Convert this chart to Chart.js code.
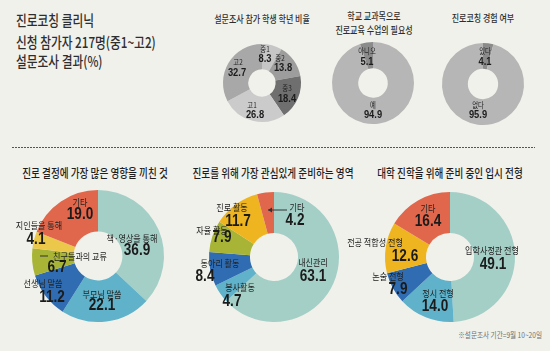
<!DOCTYPE html>
<html>
<head>
<meta charset="utf-8">
<script src="https://cdn.jsdelivr.net/npm/chart.js@4.4.0/dist/chart.umd.min.js"></script>
<style>
  html, body { margin: 0; padding: 0; background: #f1f1ec; overflow: hidden; }
  #wrap { position: relative; width: 550px; height: 351px; background: #f1f1ec; overflow: hidden; }
  #wrap canvas { position: absolute; }
  .t { position: absolute; font-family: 'Noto Sans CJK KR', sans-serif; white-space: nowrap; line-height: 1; }
  .main { left: 16px; font-size: 15px; font-weight: 500; color: #2e2e2e; transform: scaleX(0.78); transform-origin: 0 50%; }
  .sub { width: 300px; text-align: center; font-size: 10px; font-weight: 500; color: #2e2e2e; transform: scaleX(0.8); transform-origin: 50% 50%; }
  .big { width: 300px; text-align: center; font-size: 12px; font-weight: 500; color: #1e1e1e; transform: scaleX(0.8); transform-origin: 50% 50%; }
  .note { width: 200px; text-align: right; font-size: 7.5px; color: #6e6e6e; transform: scaleX(0.88); transform-origin: 100% 50%; }
  .dash { position: absolute; left: 12px; top: 147px; width: 523px; height: 1px;
          background: repeating-linear-gradient(to right, #555 0 2px, transparent 2px 3px); }
</style>
</head>
<body>
<div id="wrap">
  <div class="t main" style="top:11.5px">진로코칭 클리닉</div>
  <div class="t main" style="top:34px">신청 참가자 217명(중1~고2)</div>
  <div class="t main" style="top:52.5px">설문조사 결과(%)</div>

  <div class="t sub" style="left:112px;top:14px">설문조사 참가 학생 학년 비율</div>
  <div class="t sub" style="left:224px;top:10.5px">학교 교과목으로</div>
  <div class="t sub" style="left:224px;top:25px">진로교육 수업의 필요성</div>
  <div class="t sub" style="left:333px;top:13px">진로코칭 경험 여부</div>

  <div class="dash"></div>

  <div class="t big" style="left:-55px;top:167px">진로 결정에 가장 많은 영향을 끼친 것</div>
  <div class="t big" style="left:123px;top:167px">진로를 위해 가장 관심있게 준비하는 영역</div>
  <div class="t big" style="left:300px;top:167px">대학 진학을 위해 준비 중인 입시 전형</div>

  <div class="t note" style="left:342px;top:331px">※설문조사 기간=9월 10~20일</div>
</div>
<script>
// 설문 결과 (%)
var gradeLabels = ['중1', '중2', '중3', '고1', '고2'];
var gradeValues = [8.3, 13.8, 18.4, 26.8, 32.7];

var needLabels = ['예', '아니오'];
var needValues = [94.9, 5.1];

var expLabels = ['있다', '없다'];
var expValues = [4.1, 95.9];

var influenceLabels = ['책·영상을 통해', '부모님 말씀', '선생님 말씀', '친구들과의 교류', '지인들을 통해', '기타'];
var influenceValues = [36.9, 22.1, 11.2, 6.7, 4.1, 19.0];

var prepLabels = ['내신관리', '봉사활동', '동아리 활동', '자율 활동', '진로 활동', '기타'];
var prepValues = [63.1, 4.7, 8.4, 7.9, 11.7, 4.2];

var admLabels = ['입학사정관 전형', '정시 전형', '논술 전형', '전공 적합성 전형', '기타'];
var admValues = [49.1, 14.0, 7.9, 12.6, 16.4];

// colours
var gradeColors = ['#c6c6c6', '#9d9d9d', '#6f6f6f', '#cbcbcb', '#a8a8a8'];
var needColors = ['#b6b6b6', '#8b8b8b'];
var expColors = ['#8b8b8b', '#b6b6b6'];
var influenceColors = ['#a4cfc6', '#5fb2c9', '#2f6cb2', '#a7b435', '#ecc84a', '#e0674c'];
var prepColors = ['#a4cfc6', '#5fb2c9', '#2f6cb2', '#a7b435', '#efb520', '#e0674c'];
var admColors = ['#a4cfc6', '#5fb2c9', '#2f6cb2', '#efb520', '#e0674c'];

// label placement relative to donut centre: [nameDx, nameDy, valueDx, valueDy]
var gradePos = [[3, -34, 3, -24], [18, -25, 21, -15], [25, 5, 25, 16], [-10, 22, -7, 32], [-24, -21, -25, -10]];
var needPos = [[0, 22, 0, 32], [-6, -32, -6, -21]];
var expPos = [[2, -33, 2, -22], [-5, 21, -5, 31]];
var influencePos = [[34, -18, 39, -5], [4, 38, 4, 50], [-55, 27, -46, 42], [-18, 0, -41, 12], [-59, -31, -62, -16], [-18, -54, -18, -41]];
var prepPos = [[39, 5, 39, 20], [-34, 30, -42, 45], [-54, 6, -69, 20], [-62, -27, -52, -19], [-42, -50, -36, -35], [23, -50, 21, -36]];
var admPos = [[42, -7, 43, 8], [-12, 36, -15, 50], [-62, 19, -52, 33], [-75, -15, -45, 0], [-22, -49, -22, -35]];

var TOP = { nameFont: "7.5px 'Noto Sans CJK KR'", valFont: "bold 11px 'Liberation Sans'", sx: 0.85 };
var BOTTOM = { nameFont: "9.5px 'Noto Sans CJK KR'", valFont: "bold 16px 'Liberation Sans'", sx: 0.85 };

function drawText(ctx, text, x, y, font, sx, color) {
    ctx.save();
    ctx.translate(x, y);
    ctx.scale(sx, 1);
    ctx.font = font;
    ctx.fillStyle = color;
    ctx.textAlign = 'center';
    ctx.textBaseline = 'middle';
    ctx.fillText(text, 0, 0);
    ctx.restore();
}

function labelPlugin(o) {
    return {
        id: 'donutLabels',
        afterDraw: function (chart) {
            var ctx = chart.ctx;
            var arcs = chart.getDatasetMeta(0).data;
            arcs.forEach(function (a, i) {
                var p = o.pos[i];
                drawText(ctx, o.labels[i], a.x + p[0], a.y + p[1], o.style.nameFont, o.style.sx, '#222');
                drawText(ctx, o.values[i].toFixed(1), a.x + p[2], a.y + p[3], o.style.valFont, o.style.sx, '#1b1b1b');
            });
            if (o.leaders) {
                var c = arcs[0];
                ctx.save();
                ctx.strokeStyle = '#333';
                ctx.fillStyle = '#333';
                ctx.lineWidth = 1;
                o.leaders.forEach(function (l) {
                    ctx.beginPath();
                    ctx.moveTo(c.x + l[0], c.y + l[1]);
                    ctx.lineTo(c.x + l[2], c.y + l[1]);
                    ctx.stroke();
                    if (l[3]) {
                        ctx.beginPath();
                        ctx.moveTo(c.x + l[2], c.y + l[1]);
                        ctx.lineTo(c.x + l[2] + 4, c.y + l[1] - 2.5);
                        ctx.lineTo(c.x + l[2] + 4, c.y + l[1] + 2.5);
                        ctx.closePath();
                        ctx.fill();
                    }
                });
                ctx.restore();
            }
        }
    };
}

function makeDonut(o) {
    var c = document.createElement('canvas');
    c.width = o.w;
    c.height = o.h;
    c.style.left = (o.cx - o.w / 2) + 'px';
    c.style.top = (o.cy - o.h / 2) + 'px';
    document.getElementById('wrap').appendChild(c);
    var padX = o.w / 2 - o.r, padY = o.h / 2 - o.r;
    return new Chart(c, {
        type: 'doughnut',
        data: {
            labels: o.labels,
            datasets: [{
                data: o.values,
                backgroundColor: o.colors,
                borderWidth: 0,
                hoverBorderWidth: 0,
                hoverOffset: 0
            }]
        },
        options: {
            responsive: false,
            animation: false,
            events: [],
            cutout: o.cutout,
            layout: { padding: { left: padX, right: padX, top: padY, bottom: padY } },
            plugins: {
                legend: { display: false },
                tooltip: { enabled: false }
            }
        },
        plugins: [labelPlugin(o)]
    });
}

makeDonut({ cx: 262, cy: 83, r: 39, w: 120, h: 100, cutout: '35%', labels: gradeLabels, values: gradeValues, colors: gradeColors, pos: gradePos, style: TOP });
makeDonut({ cx: 373, cy: 83, r: 41, w: 120, h: 100, cutout: '36%', labels: needLabels, values: needValues, colors: needColors, pos: needPos, style: TOP });
makeDonut({ cx: 483, cy: 84, r: 41, w: 120, h: 100, cutout: '37%', labels: expLabels, values: expValues, colors: expColors, pos: expPos, style: TOP });

makeDonut({ cx: 98, cy: 256, r: 66, w: 240, h: 170, cutout: '37%', labels: influenceLabels, values: influenceValues, colors: influenceColors, pos: influencePos, style: BOTTOM,
    leaders: [[-58, 0, -50, false]] });
makeDonut({ cx: 274, cy: 257, r: 65, w: 240, h: 170, cutout: '37%', labels: prepLabels, values: prepValues, colors: prepColors, pos: prepPos, style: BOTTOM,
    leaders: [[13, -47, -6, true]] });
makeDonut({ cx: 450, cy: 257, r: 65, w: 240, h: 170, cutout: '37%', labels: admLabels, values: admValues, colors: admColors, pos: admPos, style: BOTTOM });
</script>
</body>
</html>
